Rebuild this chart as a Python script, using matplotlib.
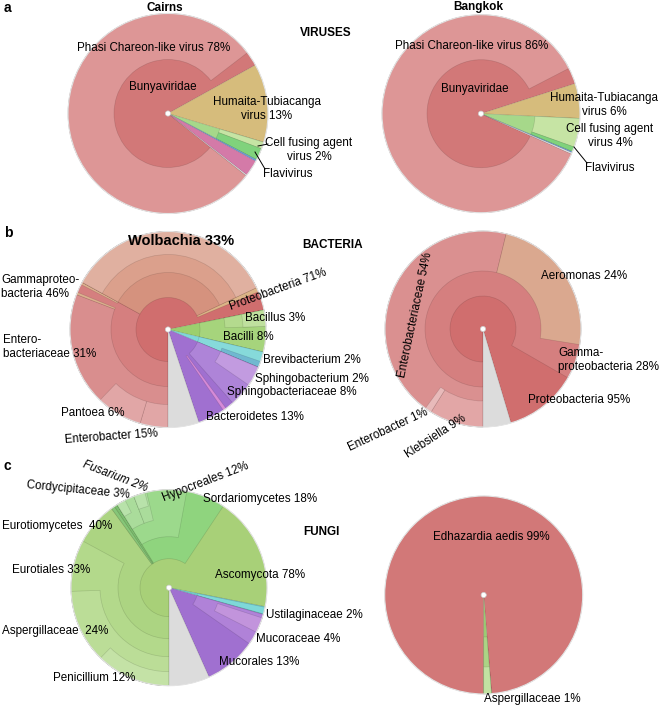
import matplotlib
matplotlib.use("Agg")
import matplotlib.pyplot as plt
from matplotlib.patches import Wedge, Circle

plt.rcParams['font.family'] = ['Liberation Sans', 'DejaVu Sans']

# ---- data: (name, percent of circle, children); name None = unassigned part of parent ----
virus_cairns = [
    ("Bunyaviridae", 81.25, [("Phasi Chareon-like virus", 78.9, [])]),
    ("Humaita-Tubiacanga virus", 12.7, []),
    ("Flavivirus", 3.0, [("Cell fusing agent virus", 1.1, []), ("other flavivirus", 1.9, [])]),
    ("blue virus", 0.3, []),
    ("magenta virus", 2.6, []),
    ("white virus", 0.15, []),
]
virus_bangkok = [
    ("Bunyaviridae", 88.4, [("Phasi Chareon-like virus", 85.75, [])]),
    ("Humaita-Tubiacanga virus", 5.7, []),
    ("Flavivirus", 5.5, [("Cell fusing agent virus", 4.7, []), ("other flavivirus", 0.8, [])]),
    ("blue virus", 0.2, []),
    ("white virus", 0.2, []),
]
bact_cairns = [
    ("Proteobacteria", 71.8, [
        ("Gammaproteobacteria", 33.0, [
            ("Enterobacteriaceae", 30.8, [("Enterobacter", 4.6, []), ("Pantoea", 7.6, [])]),
            ("gamma minor 1", 0.4, []),
            (None, 1.4, []),
            ("gamma minor 2", 0.4, []),
        ]),
        ("Alphaproteobacteria", 35.0, [("Rickettsiales", 35.0, [("Wolbachia", 35.0, [])])]),
        ("beta minor", 0.7, []),
    ]),
    ("Firmicutes", 6.9, [("Bacilli", 6.9, [("Bacillaceae", 2.7, [("Bacillus", 2.7, [])])])]),
    ("Actinobacteria", 2.6, [("Actinomycetia", 2.6, [(None, 1.6, []), ("Brevibacterium", 1.0, [])])]),
    ("Bacteroidetes", 13.6, [
        ("Sphingobacteriia", 7.2, [("Sphingobacterium", 3.3, [])]),
        (None, 1.4, []),
        ("Flavobacteriia", 0.55, []),
    ]),
    ("unassigned", 5.1, []),
]
bact_bangkok = [
    ("Proteobacteria", 95.4, [
        ("Gammaproteobacteria", 83.3, [
            ("Enterobacteriaceae", 53.8, [("Klebsiella", 8.9, []), ("Enterobacter", 1.1, [])]),
            ("Aeromonas", 23.75, []),
        ]),
    ]),
    ("unassigned", 4.6, []),
]
fungi_cairns = [
    ("Ascomycota", 78.1, [
        ("Eurotiomycetes", 40.0, [
            ("Eurotiales", 32.9, [("Aspergillaceae", 24.4, [("Penicillium", 12.3, [])])]),
        ]),
        ("asco minor 1", 0.6, []),
        ("asco minor 2", 0.5, []),
        ("Sordariomycetes", 18.25, [
            ("Hypocreales", 11.8, [
                ("Cordycipitaceae", 3.05, [("Cordyceps", 1.5, [])]),
                ("Nectriaceae", 2.2, [("Fusarium", 1.9, [])]),
            ]),
        ]),
    ]),
    ("Basidiomycota", 1.3, [(None, 0.1, []), ("Ustilaginaceae", 1.1, [])]),
    ("Mucorales", 13.9, [("Mucoraceae", 5.3, [(None, 0.6, []), ("Mucor", 2.5, [])])]),
    ("unassigned", 6.7, []),
]
fungi_bangkok = [
    ("Edhazardia aedis", 98.75, []),
    ("Ascomycota", 1.25, [("Eurotiomycetes", 1.25, [("Aspergillaceae", 1.25, [])])]),
]

# ---- colours ----
virus_colors = {
    "Bunyaviridae": "#d27878", "Phasi Chareon-like virus": "#dd9696",
    "Humaita-Tubiacanga virus": "#d6bc7c", "Flavivirus": "#a6d88a",
    "Cell fusing agent virus": "#c6e4a4", "other flavivirus": "#80d27c",
    "blue virus": "#6f9fd8", "magenta virus": "#d47aa8", "white virus": "#ececec",
}
bact_colors = {
    "Proteobacteria": "#d06e6e", "Gammaproteobacteria": "#d57f7f",
    "Enterobacteriaceae": "#d98e8e", "Enterobacter": "#e1a6a6", "Pantoea": "#e1a6a6",
    "Klebsiella": "#e2a6a6", "Aeromonas": "#daa88f",
    "gamma minor 1": "#dcb08e", "gamma minor 2": "#dcb08e", "beta minor": "#dcb487",
    "Alphaproteobacteria": "#d5927e", "Rickettsiales": "#dba08c", "Wolbachia": "#e0b0a0",
    "Firmicutes": "#9ccf6e", "Bacilli": "#a6d47c", "Bacillaceae": "#b4da8e", "Bacillus": "#bfe09e",
    "Actinobacteria": "#7fd8d8", "Actinomycetia": "#86dada", "Brevibacterium": "#70b8d0",
    "Bacteroidetes": "#a070d0", "Sphingobacteriia": "#ae84d8", "Sphingobacterium": "#c29be0",
    "Flavobacteriia": "#d68ad8", "unassigned": "#dcdcdc",
}
bact_colors_bkk = dict(bact_colors, Enterobacteriaceae="#da9090", Enterobacter="#e8baba")
fungi_colors = {
    "Ascomycota": "#a8d078", "Eurotiomycetes": "#acd482", "Eurotiales": "#b3d98b",
    "Aspergillaceae": "#bbdd97", "Penicillium": "#c4e2a6",
    "asco minor 1": "#86c678", "asco minor 2": "#7cbf70",
    "Sordariomycetes": "#8fd47e", "Hypocreales": "#9cd98c",
    "Cordycipitaceae": "#aadc9b", "Cordyceps": "#b8e2aa",
    "Nectriaceae": "#aadc9b", "Fusarium": "#b8e2aa",
    "Basidiomycota": "#70cccc", "Ustilaginaceae": "#7ed8d8",
    "Mucorales": "#a070d0", "Mucoraceae": "#b082d8", "Mucor": "#c294dc",
    "unassigned": "#dcdcdc",
}
fungi_colors_bkk = {
    "Edhazardia aedis": "#d27878", "Ascomycota": "#9ccc72",
    "Eurotiomycetes": "#acd485", "Aspergillaceae": "#c2e2a2",
}

EDGE = (0, 0, 0, 0.13)


def draw_tree(ax, nodes, cx, cy, radii, start, colors, depth=0):
    a = start
    R = radii[-1]
    for name, pct, kids in nodes:
        span = pct * 3.6
        if name in colors:
            r0 = radii[depth]
            ax.add_patch(Wedge((cx, cy), R, a, a + span,
                               width=None if r0 == 0 else R - r0,
                               facecolor=colors[name], edgecolor=EDGE, lw=0.5))
        if kids:
            draw_tree(ax, kids, cx, cy, radii, a, colors, depth + 1)
        a += span


def krona(ax, nodes, cx, cy, radii, start, colors):
    draw_tree(ax, nodes, cx, cy, radii, start, colors)
    ax.add_patch(Circle((cx, cy), radii[-1], fill=False, edgecolor="#e4e4e4", lw=0.8))
    ax.add_patch(Circle((cx, cy), 2.6, facecolor="white", edgecolor="#cccccc", lw=0.5, zorder=5))


fig = plt.figure(figsize=(6.6, 7.06), dpi=100)
ax = fig.add_axes([0, 0, 1, 1])
ax.set_xlim(0, 660)
ax.set_ylim(706, 0)
ax.axis("off")

# angles in data coords (y down): 90 = south, increasing = clockwise on screen
krona(ax, virus_cairns, 168, 113.5, [0, 54, 100], 38.5, virus_colors)
krona(ax, virus_bangkok, 481, 113.7, [0, 54, 99], 24, virus_colors)
krona(ax, bact_cairns, 168, 329.5, [0, 32, 57, 75, 98], 90, bact_colors)
krona(ax, bact_bangkok, 483, 329, [0, 33, 58, 72, 98], 90, bact_colors_bkk)
krona(ax, fungi_cairns, 169, 587.7, [0, 29, 51, 69, 84, 98], 90, fungi_colors)
krona(ax, fungi_bangkok, 483.7, 595, [0, 42, 72, 99], 90, fungi_colors_bkk)

# ---- headings ----
bold = dict(fontweight="bold", fontsize=8.5, va="center")
ax.text(4, 8, "a", fontweight="bold", fontsize=10, va="center")
ax.text(4, 233, "b", fontweight="bold", fontsize=10, va="center")
ax.text(4, 466, "c", fontweight="bold", fontsize=10, va="center")
ax.text(165, 8, "Cairns", ha="center", **bold)
ax.text(478, 7, "Bangkok", ha="center", **bold)
ax.text(300, 33, "VIRUSES", ha="left", **bold)
ax.text(302, 245, "BACTERIA", ha="left", **bold)
ax.text(303, 532, "FUNGI", ha="left", **bold)

# ---- labels: text, x, y, ha, rotation ----
labels = [
    ("Phasi Chareon-like virus 78%", 154, 48, "center", 0),
    ("Bunyaviridae", 163, 87, "center", 0),
    ("Humaita-Tubiacanga\nvirus 13%", 267, 109, "center", 0),
    ("Cell fusing agent\nvirus 2%", 309, 150, "center", 0),
    ("Flavivirus", 263, 174, "left", 0),
    ("Phasi Chareon-like virus 86%", 472, 46, "center", 0),
    ("Bunyaviridae", 475, 89, "center", 0),
    ("Humaita-Tubiacanga\nvirus 6%", 604, 105, "center", 0),
    ("Cell fusing agent\nvirus 4%", 610, 136, "center", 0),
    ("Flavivirus", 585, 168, "left", 0),
    ("Gammaproteo-\nbacteria 46%", 1, 287, "left", 0),
    ("Entero-\nbacteriaceae 31%", 3, 347, "left", 0),
    ("Proteobacteria 71%", 278, 290, "center", 20),
    ("Bacillus 3%", 275, 318, "center", 0),
    ("Bacilli 8%", 248, 337, "center", 0),
    ("Brevibacterium 2%", 263, 360, "left", 0),
    ("Sphingobacterium 2%", 255, 379, "left", 0),
    ("Sphingobacteriaceae 8%", 227, 392, "left", 0),
    ("Bacteroidetes 13%", 206, 417, "left", 0),
    ("Pantoea 6%", 93, 413, "center", 0),
    ("Enterobacter 15%", 111, 437, "center", 4),
    ("Enterobacteriaceae 54%", 415, 315, "center", 78),
    ("Aeromonas 24%", 584, 276, "center", 0),
    ("Gamma-\nproteobacteria 28%", 558, 360, "left", 0),
    ("Proteobacteria 95%", 579, 400, "center", 0),
    ("Enterobacter 1%", 388, 430, "center", 25),
    ("Klebsiella 9%", 436, 436, "center", 33),
    ("Cordycipitaceae 3%", 78, 490, "center", -5.5),
    ("Hypocreales 12%", 206, 482, "center", 21),
    ("Sordariomycetes 18%", 260, 499, "center", 0),
    ("Eurotiomycetes  40%", 57, 526, "center", 0),
    ("Eurotiales 33%", 51, 570, "center", 0),
    ("Ascomycota 78%", 260, 575, "center", 0),
    ("Aspergillaceae  24%", 55, 631, "center", 0),
    ("Ustilaginaceae 2%", 266, 615, "left", 0),
    ("Mucoraceae 4%", 256, 639, "left", 0),
    ("Mucorales 13%", 259, 662, "center", 0),
    ("Penicillium 12%", 94, 678, "center", 0),
    ("Edhazardia aedis 99%", 491, 537, "center", 0),
    ("Aspergillaceae 1%", 532, 699, "center", 0),
]
for txt, x, y, ha, rot in labels:
    ax.text(x, y, txt, ha=ha, va="center", rotation=rot, fontsize=8.4,
            linespacing=1.15, rotation_mode="anchor", multialignment=ha if ha != "center" else "center")

ax.text(115, 477, "Fusarium 2%", ha="center", va="center", rotation=-21, fontsize=8.4,
        style="italic", rotation_mode="anchor")
ax.text(181, 241, "Wolbachia 33%", ha="center", va="center", fontsize=10.5, fontweight="bold")

# leader lines
ax.plot([258, 268], [146, 144], color="black", lw=0.7)
ax.plot([255, 265], [152, 169], color="black", lw=0.7)
ax.plot([574, 587], [147, 163], color="black", lw=0.7)

fig.savefig("out.png", dpi=100)
